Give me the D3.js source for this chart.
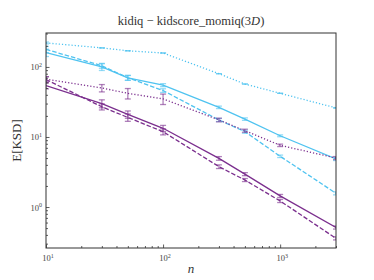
<!DOCTYPE html>
<html lang="en">
<head>
    <meta charset="UTF-8">
    <title>kidiq</title>
    <script src="https://cdn.jsdelivr.net/npm/d3@7"></script>
    <style>
        body { margin: 0; background: #fff; }
        svg { font-family: "Liberation Serif", "DejaVu Serif", serif; }
        .tick-label { font-size: 8.5px; fill: #444; }
    </style>
</head>
<body>
<div id="chart"></div>
<script>
    'use strict';

    // sample sizes
    const ns = [10, 30, 50, 100, 300, 500, 1000, 3000];

    // E[KSD] per method
    const cyanSolid  = [160, 100, 70, 55, 26.5, 18, 10.4, 4.85];
    const cyanDashed = [178, 104, 70, 46, 17.5, 11.9, 5.3, 1.57];
    const cyanDotted = [220, 187, 170, 158, 80, 57, 42, 26];
    const purpleSolid  = [54, 30, 21, 13.3, 4.95, 2.95, 1.44, 0.51];
    const purpleDashed = [66, 27, 19, 11.9, 3.77, 2.43, 1.22, 0.357];
    const purpleDotted = [67, 50, 42, 35, 17.5, 12.3, 7.6, 5.0];

    // relative error bar half-widths
    const cyanSolidErr  = [0.12, 0.11, 0.08, 0.05, 0.04, 0.04, 0.03, 0.05];
    const cyanDashedErr = [0.10, 0.08, 0.08, 0.06, 0.05, 0.05, 0.04, 0.05];
    const cyanDottedErr = [0.03, 0.0, 0.0, 0.0, 0.0, 0.0, 0.0, 0.0];
    const purpleSolidErr  = [0.10, 0.13, 0.12, 0.10, 0.06, 0.05, 0.05, 0.05];
    const purpleDashedErr = [0.10, 0.10, 0.12, 0.10, 0.06, 0.05, 0.05, 0.05];
    const purpleDottedErr = [0.08, 0.12, 0.17, 0.17, 0.06, 0.05, 0.04, 0.05];

    const xTicks = [10, 100, 1000];
    const yTicks = [1, 10, 100];

    const cyan = '#4fc3f0';
    const purple = '#7b2f8e';

    const series = [
        { vals: cyanDotted, err: cyanDottedErr, color: cyan, dash: '1.2,2' },
        { vals: cyanDashed, err: cyanDashedErr, color: cyan, dash: '4.5,2' },
        { vals: cyanSolid, err: cyanSolidErr, color: cyan, dash: null },
        { vals: purpleDotted, err: purpleDottedErr, color: purple, dash: '1.2,2' },
        { vals: purpleDashed, err: purpleDashedErr, color: purple, dash: '4.5,2' },
        { vals: purpleSolid, err: purpleSolidErr, color: purple, dash: null }
    ];

    const width = 374, height = 280;
    const margin = { left: 46, right: 38, top: 33, bottom: 32 };

    const svg = d3.select('#chart').append('svg')
        .attr('width', width).attr('height', height);

    const x = d3.scaleLog().domain([10, 3000]).range([margin.left, width - margin.right]);
    const y = d3.scaleLog().domain([0.26, 305]).range([height - margin.bottom, margin.top]);

    svg.append('clipPath').attr('id', 'clip').append('rect')
        .attr('x', margin.left).attr('y', margin.top)
        .attr('width', width - margin.left - margin.right)
        .attr('height', height - margin.top - margin.bottom);

    const plot = svg.append('g').attr('clip-path', 'url(#clip)');

    const line = d3.line().x((d, i) => x(ns[i])).y(d => y(d));

    series.forEach(s => {
        plot.append('path')
            .datum(s.vals)
            .attr('d', line)
            .attr('fill', 'none')
            .attr('stroke', s.color)
            .attr('stroke-width', 1.3)
            .attr('stroke-dasharray', s.dash);

        const bars = plot.append('g')
            .attr('stroke', s.color)
            .attr('stroke-opacity', 0.6)
            .attr('stroke-width', 1.3);
        s.vals.forEach((v, i) => {
            const lo = y(v * (1 - s.err[i]));
            const hi = y(v * (1 + s.err[i]));
            const cx = x(ns[i]);
            bars.append('line').attr('x1', cx).attr('x2', cx).attr('y1', lo).attr('y2', hi);
            bars.append('line').attr('x1', cx - 3).attr('x2', cx + 3).attr('y1', lo).attr('y2', lo);
            bars.append('line').attr('x1', cx - 3).attr('x2', cx + 3).attr('y1', hi).attr('y2', hi);
        });
    });

    // axes, ticks pointing inward
    const xAxis = svg.append('g')
        .attr('transform', `translate(0,${height - margin.bottom})`)
        .call(d3.axisBottom(x).tickValues(x.ticks()).tickSize(-2).tickFormat(''));
    xAxis.selectAll('.tick line').filter(d => xTicks.includes(d)).attr('y2', -3.5);

    const yAxis = svg.append('g')
        .attr('transform', `translate(${margin.left},0)`)
        .call(d3.axisLeft(y).tickValues(y.ticks()).tickSize(-2).tickFormat(''));
    yAxis.selectAll('.tick line').filter(d => yTicks.includes(d)).attr('x2', 3.5);

    [xAxis, yAxis].forEach(a => {
        a.select('.domain').remove();
        a.selectAll('.tick line').attr('stroke', '#333').attr('stroke-width', 0.8);
    });

    svg.append('rect')
        .attr('x', margin.left).attr('y', margin.top)
        .attr('width', width - margin.left - margin.right)
        .attr('height', height - margin.top - margin.bottom)
        .attr('fill', 'none').attr('stroke', '#333').attr('stroke-width', 1);

    // "10" with a raised exponent
    function powerLabel(sel) {
        sel.append('tspan').text('10');
        sel.append('tspan')
            .attr('dy', -3.5).attr('font-size', 6)
            .text(d => Math.round(Math.log10(d)));
    }

    svg.selectAll('.xlab').data(xTicks).join('text')
        .attr('class', 'tick-label')
        .attr('x', d => x(d) + 2).attr('y', height - margin.bottom + 13)
        .attr('text-anchor', 'middle')
        .call(powerLabel);

    svg.selectAll('.ylab').data(yTicks).join('text')
        .attr('class', 'tick-label')
        .attr('x', margin.left - 4).attr('y', d => y(d) + 3.5)
        .attr('text-anchor', 'end')
        .call(powerLabel);

    const title = svg.append('text')
        .attr('x', (margin.left + width - margin.right) / 2).attr('y', 25)
        .attr('text-anchor', 'middle')
        .attr('font-size', 12.5).attr('fill', '#333');
    title.append('tspan').text('kidiq − kidscore_momiq(3');
    title.append('tspan').attr('font-style', 'italic').text('D');
    title.append('tspan').text(')');

    svg.append('text')
        .attr('x', (margin.left + width - margin.right) / 2).attr('y', 273)
        .attr('text-anchor', 'middle')
        .attr('font-size', 13).attr('font-style', 'italic').attr('fill', '#333')
        .text('n');

    svg.append('text')
        .attr('transform', `translate(21,${(margin.top + height - margin.bottom) / 2}) rotate(-90)`)
        .attr('text-anchor', 'middle')
        .attr('font-size', 13).attr('fill', '#333')
        .text('E[KSD]');
</script>
</body>
</html>
